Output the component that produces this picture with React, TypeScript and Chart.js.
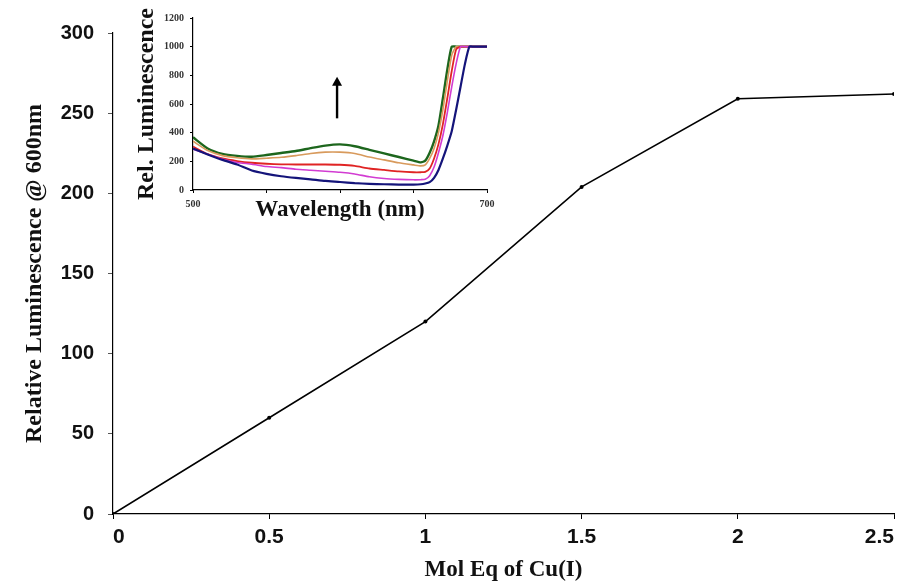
import React, { useEffect, useRef } from 'react';
import { Chart, registerables } from 'chart.js';

Chart.register(...registerables);

// ---- Main chart data ----
const MOL_EQ = [0, 0.5, 1, 1.5, 2, 2.5];
const REL_LUM = [0, 60, 120, 204, 259, 262];

// ---- Inset data ----
const WAVELENGTH = [500, 510, 520, 530, 540, 550, 560, 570, 580, 590, 600, 610, 620, 630, 640, 650, 655, 658, 661, 664, 667, 670, 673, 676, 679, 682, 685, 688, 691, 700];
const NAVY = [289, 248, 210, 178, 136, 113, 96, 84, 74, 63, 56, 48, 43, 40, 38, 38, 40, 45, 55, 85, 140, 220, 310, 410, 560, 720, 880, 1000, 1000, 1000];
const MAGENTA = [285, 250, 215, 192, 180, 164, 156, 145, 138, 131, 124, 112, 92, 80, 74, 71, 72, 75, 100, 160, 260, 380, 540, 720, 880, 1000, 1000, 1000, 1000, 1000];
const RED = [303, 250, 220, 202, 190, 183, 179, 178, 178, 178, 176, 168, 150, 140, 130, 124, 124, 126, 150, 220, 320, 460, 640, 830, 980, 1000, 1000, 1000, 1000, 1000];
const ORANGE = [340, 275, 240, 225, 217, 222, 228, 240, 255, 264, 264, 255, 230, 210, 190, 175, 168, 175, 220, 290, 400, 560, 760, 940, 1000, 1000, 1000, 1000, 1000, 1000];
const GREEN = [368, 290, 252, 238, 232, 244, 258, 272, 292, 310, 318, 305, 280, 255, 230, 205, 193, 205, 260, 340, 450, 640, 840, 1000, 1000, 1000, 1000, 1000, 1000, 1000];
const INSET_SERIES = [
  { name: 'navy', values: NAVY, color: '#14147a', width: 2.2 },
  { name: 'magenta', values: MAGENTA, color: '#d23cd2', width: 1.6 },
  { name: 'red', values: RED, color: '#e02424', width: 1.8 },
  { name: 'orange', values: ORANGE, color: '#d89a5c', width: 1.6 },
  { name: 'green', values: GREEN, color: '#1d661d', width: 2.4 },
];
const INSET_X_TICK_LABELS = [500, 700];
const ARROW_WAVELENGTH = 598;
const ARROW_FROM = 500;
const ARROW_TO = 790;

const arrowPlugin = {
  id: 'insetArrow',
  afterDatasetsDraw(chart: any) {
    const { ctx, scales } = chart;
    const x = scales.x.getPixelForValue(ARROW_WAVELENGTH);
    const y1 = scales.y.getPixelForValue(ARROW_FROM);
    const y2 = scales.y.getPixelForValue(ARROW_TO);
    ctx.save();
    ctx.strokeStyle = '#000';
    ctx.fillStyle = '#000';
    ctx.lineWidth = 2.4;
    ctx.beginPath();
    ctx.moveTo(x, y1);
    ctx.lineTo(x, y2 + 6);
    ctx.stroke();
    ctx.beginPath();
    ctx.moveTo(x, y2);
    ctx.lineTo(x - 5, y2 + 9);
    ctx.lineTo(x + 5, y2 + 9);
    ctx.closePath();
    ctx.fill();
    ctx.restore();
  },
};

export default function App() {
  const mainRef = useRef<HTMLCanvasElement>(null);
  const insetRef = useRef<HTMLCanvasElement>(null);

  useEffect(() => {
    const sans = 'Liberation Sans, Arial, sans-serif';
    const serif = 'Liberation Serif, Times New Roman, serif';
    const main = new Chart(mainRef.current!, {
      type: 'scatter',
      data: {
        datasets: [
          {
            data: MOL_EQ.map((x, i) => ({ x, y: REL_LUM[i] })),
            showLine: true,
            borderColor: '#000',
            borderWidth: 1.6,
            backgroundColor: '#000',
            pointRadius: 2,
            pointBorderWidth: 0,
            tension: 0,
          },
        ],
      },
      options: {
        animation: false,
        responsive: false,
        devicePixelRatio: 1,
        layout: { padding: { left: 0, right: 10, top: 33, bottom: 0 } },
        plugins: { legend: { display: false }, tooltip: { enabled: false } },
        scales: {
          x: {
            type: 'linear',
            min: 0,
            max: 2.5,
            afterFit: (s: any) => { s.height = 68; },
            grid: { display: true, drawOnChartArea: false, drawTicks: true, tickLength: 5, color: '#000' },
            border: { display: true, color: '#000', width: 1.2 },
            ticks: { stepSize: 0.5, align: 'inner', padding: 6, color: '#111', font: { family: sans, size: 21, weight: 'bold' }, callback: (v: any) => String(Number(v)) },
            title: { display: true, text: 'Mol Eq of Cu(I)', color: '#111', font: { family: serif, size: 23, weight: 'bold', lineHeight: 1 }, padding: { top: 0, bottom: 0 } },
          },
          y: {
            min: 0,
            max: 300,
            afterFit: (s: any) => { s.width = 113; },
            grid: { display: true, drawOnChartArea: false, drawTicks: true, tickLength: 5, color: '#555' },
            border: { display: true, color: '#000', width: 1.2 },
            ticks: { stepSize: 50, padding: 14, color: '#111', font: { family: sans, size: 20, weight: 'bold' }, callback: (v: any) => String(Number(v)) },
            title: { display: true, text: 'Relative Luminescence @ 600nm', color: '#111', font: { family: serif, size: 24, weight: 'bold', lineHeight: 1 }, padding: { top: 23, bottom: 0 } },
          },
        },
      },
    } as any);

    const inset = new Chart(insetRef.current!, {
      type: 'line',
      data: {
        datasets: INSET_SERIES.map((s) => ({
          label: s.name,
          data: WAVELENGTH.map((x, i) => ({ x, y: s.values[i] })),
          borderColor: s.color,
          borderWidth: s.width,
          pointRadius: 0,
          tension: 0.2,
          fill: false,
        })),
      },
      options: {
        animation: false,
        responsive: false,
        devicePixelRatio: 1,
        layout: { padding: { left: 0, right: 18, top: 18, bottom: 0 } },
        plugins: { legend: { display: false }, tooltip: { enabled: false } },
        scales: {
          x: {
            type: 'linear',
            min: 500,
            max: 700,
            afterFit: (s: any) => { s.height = 32; },
            grid: { display: true, drawOnChartArea: false, drawTicks: true, tickLength: 3, color: '#000' },
            border: { display: true, color: '#000', width: 1.2 },
            ticks: {
              stepSize: 50,
              padding: 5,
              autoSkip: false,
              maxRotation: 0,
              color: '#333',
              font: { family: serif, size: 10, weight: 'bold' },
              callback: (v: any) => (INSET_X_TICK_LABELS.includes(Number(v)) ? String(v) : ''),
            },
            title: { display: true, text: 'Wavelength (nm)', color: '#111', font: { family: serif, size: 23, weight: 'bold', lineHeight: 1 }, padding: { top: 0, bottom: 0.5 } },
          },
          y: {
            min: 0,
            max: 1200,
            afterFit: (s: any) => { s.width = 68; },
            grid: { display: true, drawOnChartArea: false, drawTicks: true, tickLength: 3, color: '#000' },
            border: { display: true, color: '#000', width: 1.2 },
            ticks: { stepSize: 200, padding: 6, color: '#333', font: { family: serif, size: 10, weight: 'bold' }, callback: (v: any) => String(Number(v)) },
            title: { display: true, text: 'Rel. Luminescence', color: '#111', font: { family: serif, size: 24, weight: 'bold', lineHeight: 1 }, padding: { top: 10, bottom: 0 } },
          },
        },
      },
      plugins: [arrowPlugin],
    } as any);

    return () => {
      main.destroy();
      inset.destroy();
    };
  }, []);

  return (
    <div style={{ position: 'fixed', left: 0, top: 0, width: 904, height: 582, background: '#fff', overflow: 'hidden' }}>
      <canvas ref={mainRef} width={904} height={582} style={{ position: 'absolute', left: 0, top: 0, width: 904, height: 582 }} />
      <canvas ref={insetRef} width={380} height={222} style={{ position: 'absolute', left: 125, top: 0, width: 380, height: 222 }} />
    </div>
  );
}
